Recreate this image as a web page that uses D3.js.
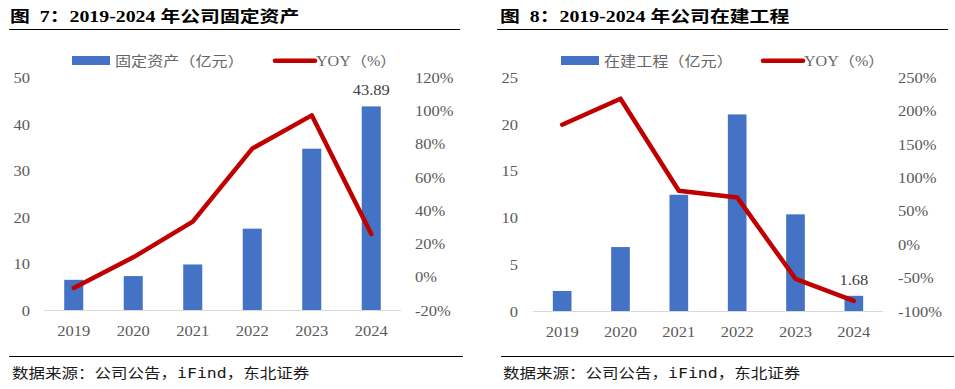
<!DOCTYPE html>
<html>
<head>
<meta charset="utf-8">
<script src="https://cdn.jsdelivr.net/npm/d3@7"></script>
<style>
  body { margin: 0; background: #fff; }
  svg { display: block; }
  text { white-space: pre; }
</style>
</head>
<body>
<svg id="chart" width="955" height="389"></svg>
<script>
var years = ["2019", "2020", "2021", "2022", "2023", "2024"];

// 图7 固定资产
var fixedAssets = [6.6, 7.4, 9.9, 17.6, 34.8, 43.89];
var fixedYoy = [-6.5, 12, 33.5, 77.5, 97.5, 26];
var fixedTicks = [0, 10, 20, 30, 40, 50];
var fixedYoyTicks = [-20, 0, 20, 40, 60, 80, 100, 120];

// 图8 在建工程
var cip = [2.2, 6.9, 12.5, 21.1, 10.4, 1.68];
var cipYoy = [180, 219, 81, 71, -51, -84];
var cipTicks = [0, 5, 10, 15, 20, 25];
var cipYoyTicks = [-100, -50, 0, 50, 100, 150, 200, 250];

var BLUE = "#4472C4", RED = "#C00000", GREY = "#595959";
var SERIF = "'Liberation Serif', 'Noto Sans CJK SC', serif";
var svg = d3.select("#chart");

// text in the picture is a bit wider than normal, so stretch it sideways
function label(g, x, y, str, opts) {
  opts = opts || {};
  return g.append("text")
    .attr("transform", "translate(" + x + "," + y + ") scale(" + (opts.sx || 1.1) + ",1)")
    .attr("text-anchor", opts.anchor || "start")
    .attr("font-family", opts.family || SERIF)
    .attr("font-size", opts.size || 15)
    .attr("font-weight", opts.weight || "normal")
    .attr("fill", opts.fill || GREY)
    .text(str);
}

function panel(cfg) {
  var g = svg.append("g");

  // title + rule
  label(g, cfg.titleX, 22, cfg.title, {size: 16, weight: "bold", fill: "#000", sx: 1.24});
  g.append("line").attr("x1", cfg.ruleX[0]).attr("x2", cfg.ruleX[1])
    .attr("y1", 29.5).attr("y2", 29.5).attr("stroke", "#000").attr("stroke-width", 1.2);

  var x = d3.scaleBand().domain(years).range(cfg.xRange)
    .paddingInner(0.68).paddingOuter(0.34);
  var y = d3.scaleLinear().domain(d3.extent(cfg.leftTicks)).range([cfg.zeroY, 78]);
  var y2 = d3.scaleLinear().domain(d3.extent(cfg.rightTicks)).range([cfg.zeroY, 78]);

  // bars
  g.selectAll("rect.bar").data(cfg.bars).enter().append("rect")
    .attr("class", "bar")
    .attr("x", function (d, i) { return x(years[i]); })
    .attr("width", x.bandwidth())
    .attr("y", function (d) { return y(d); })
    .attr("height", function (d) { return y(0) - y(d); })
    .attr("fill", BLUE);

  // baseline
  g.append("line").attr("x1", cfg.xRange[0]).attr("x2", cfg.xRange[1])
    .attr("y1", y(0)).attr("y2", y(0)).attr("stroke", "#D9D9D9").attr("stroke-width", 1);

  // yoy line
  var line = d3.line()
    .x(function (d, i) { return x(years[i]) + x.bandwidth() / 2; })
    .y(function (d) { return y2(d); });
  g.append("path").datum(cfg.yoy)
    .attr("d", line)
    .attr("fill", "none").attr("stroke", RED).attr("stroke-width", 4.5)
    .attr("stroke-linejoin", "round").attr("stroke-linecap", "round");

  // axis labels
  cfg.leftTicks.forEach(function (t) {
    label(g, cfg.leftLabelX, y(t) + 5, t, {anchor: "end"});
  });
  cfg.rightTicks.forEach(function (t) {
    label(g, cfg.rightLabelX, y2(t) + 5, t + "%");
  });
  years.forEach(function (yr) {
    label(g, x(yr) + x.bandwidth() / 2, y(0) + 25, yr, {anchor: "middle"});
  });

  // value label on last bar
  var last = cfg.bars[cfg.bars.length - 1];
  label(g, x(years[5]) + x.bandwidth() / 2, y(last) - 11, last.toFixed(2), {anchor: "middle", fill: "#404040"});

  // legend
  var lg = cfg.legend;
  g.append("rect").attr("x", lg.rectX).attr("y", 56).attr("width", 38).attr("height", 9).attr("fill", BLUE);
  label(g, lg.rectX + 43, 66, cfg.barName, {size: 14, sx: 1.15, fill: "#666"});
  g.append("line").attr("x1", lg.lineX).attr("x2", lg.lineX + 40)
    .attr("y1", 60.7).attr("y2", 60.7)
    .attr("stroke", RED).attr("stroke-width", 4.5).attr("stroke-linecap", "round");
  label(g, lg.lineX + 41, 66, "YOY（%）", {size: 14, sx: 1.15, fill: "#666"});

  // source
  g.append("line").attr("x1", cfg.footRule[0]).attr("x2", cfg.footRule[1])
    .attr("y1", 356.5).attr("y2", 356.5).attr("stroke", "#000").attr("stroke-width", 1.2);
  label(g, cfg.footX, 378, "数据来源：公司公告，iFind，东北证券",
    {size: 14, sx: 1.18, fill: "#1a1a1a", family: "'DejaVu Sans Mono', 'Noto Sans CJK SC', monospace"});
}

panel({
  title: "图  7：2019-2024 年公司固定资产",
  titleX: 10, ruleX: [9, 460],
  xRange: [44, 401], zeroY: 310.5,
  bars: fixedAssets, yoy: fixedYoy,
  leftTicks: fixedTicks, rightTicks: fixedYoyTicks,
  leftLabelX: 30, rightLabelX: 415,
  barName: "固定资产（亿元）",
  legend: {rectX: 72, lineX: 275},
  footRule: [9, 463], footX: 12
});

panel({
  title: "图  8：2019-2024 年公司在建工程",
  titleX: 500, ruleX: [497, 948],
  xRange: [533, 883], zeroY: 311.5,
  bars: cip, yoy: cipYoy,
  leftTicks: cipTicks, rightTicks: cipYoyTicks,
  leftLabelX: 518, rightLabelX: 898,
  barName: "在建工程（亿元）",
  legend: {rectX: 561, lineX: 763},
  footRule: [501, 954], footX: 503
});
</script>
</body>
</html>
